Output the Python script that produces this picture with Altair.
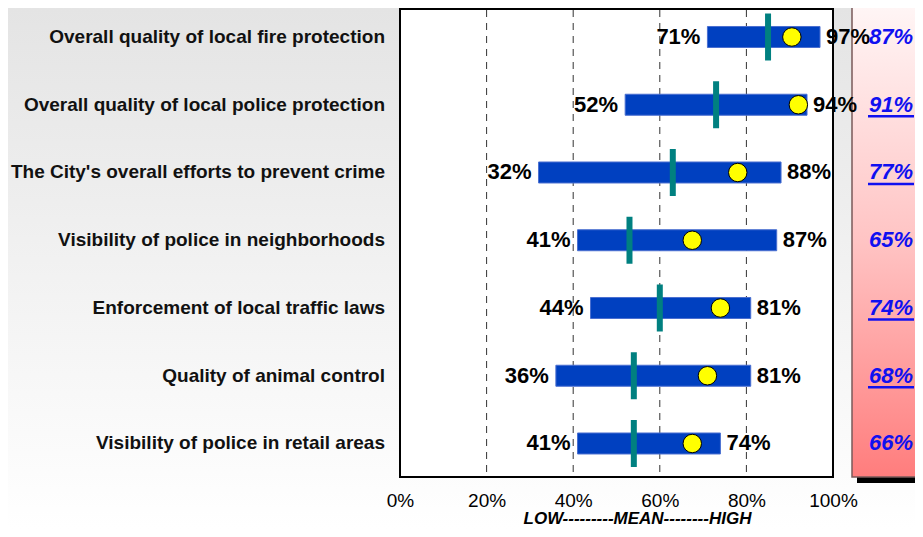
import altair as alt
import pandas as pd

categories = [
    "Overall quality of local fire protection",
    "Overall quality of local police protection",
    "The City's overall efforts to prevent crime",
    "Visibility of police in neighborhoods",
    "Enforcement of local traffic laws",
    "Quality of animal control",
    "Visibility of police in retail areas",
]
low = [71, 52, 32, 41, 44, 36, 41]
high = [97, 94, 88, 87, 81, 81, 74]
mean = [85, 73, 63, 53, 60, 54, 54]
city = [90.5, 92, 78, 67.5, 74, 71, 67.5]
compare = [87, 91, 77, 65, 74, 68, 66]
underlined = [False, True, True, False, True, True, False]
axis_values = [0, 20, 40, 60, 80, 100]
grid_values = [20, 40, 60, 80]

df = pd.DataFrame({
    "cat": categories,
    "rank": list(range(len(categories))),
    "low": low,
    "high": high,
    "mean": mean,
    "city": city,
    "compare": compare,
    "ul": underlined,
})
df["low_lbl"] = [f"{v}%" for v in low]
df["high_lbl"] = [f"{v}%" for v in high]
df["cmp_lbl"] = [f"{v}%" for v in compare]

W, H = 433, 469
SVG_H = 521
SVG_W = 907
FONT = "Liberation Sans"
one = pd.DataFrame({"a": [0]})
grid_df = pd.DataFrame({"g": grid_values})

xs = alt.Scale(domain=[0, 100], nice=False, zero=False, padding=0)
ys = alt.Scale(domain=[-0.42804, 6.49447], nice=False, zero=False, reverse=True, padding=0)

X = alt.X("low:Q", scale=xs, axis=alt.Axis(
    values=axis_values, labelExpr="datum.value + '%'", labelFontSize=19,
    labelFont=FONT, labelColor="black", domain=False, ticks=False, grid=False,
    labelPadding=14, labelFlush=False, labelOverlap=False, zindex=1,
    title="LOW---------MEAN--------HIGH", titleFont=FONT, titleFontSize=17,
    titleFontStyle="italic", titleFontWeight="bold", titleColor="black",
    titleX=237, titleY=41, titleBaseline="middle", titleAlign="center"))
Y = alt.Y("rank:Q", scale=ys, axis=None)

bg = alt.Chart(one).mark_rect(fill=alt.LinearGradient(
    gradient="linear", x1=0, y1=0, x2=0, y2=1,
    stops=[alt.GradientStop(color="#e4e4e4", offset=0), alt.GradientStop(color="#ffffff", offset=1)])
).encode(x=alt.value(-392), x2=alt.value(SVG_W - 392), y=alt.value(0), y2=alt.value(SVG_H))

shadow = alt.Chart(one).mark_rect(fill="black").encode(
    x=alt.value(457), x2=alt.value(530), y=alt.value(0), y2=alt.value(475))
panel = alt.Chart(one).mark_rect(fill=alt.LinearGradient(
    gradient="linear", x1=0, y1=0, x2=0, y2=1,
    stops=[alt.GradientStop(color="#fff6f6", offset=0),
           alt.GradientStop(color="#ffc4c4", offset=0.5),
           alt.GradientStop(color="#ff7d7d", offset=1)]),
    stroke="#7a5a5a", strokeWidth=1.5
).encode(x=alt.value(452), x2=alt.value(530), y=alt.value(-5), y2=alt.value(469))

plotbg = alt.Chart(one).mark_rect(fill="white").encode(
    x=alt.value(0), x2=alt.value(W), y=alt.value(0), y2=alt.value(H))

grid = alt.Chart(grid_df).mark_rule(color="#333333", strokeWidth=1, strokeDash=[7, 6]).encode(
    x=alt.X("g:Q", scale=xs), y=alt.value(2), y2=alt.value(H))

base = alt.Chart(df)
bars = base.mark_bar(color="#0040c0", stroke="#4a6fd0", strokeWidth=1, size=21,
                     orient="horizontal").encode(x=X, x2="high:Q", y=Y)
ticks = base.mark_tick(color="#008080", orient="vertical", size=47, thickness=6,
                       opacity=1).encode(x=alt.X("mean:Q", scale=xs), y=Y)
dots = base.mark_point(shape="circle", filled=True, fill="#ffff00", stroke="black",
                       strokeWidth=1, size=340, opacity=1).encode(
    x=alt.X("city:Q", scale=xs), y=Y)
low_t = base.mark_text(align="right", baseline="middle", dx=-7, font=FONT,
                       fontSize=22, fontWeight="bold", color="black").encode(
    x=alt.X("low:Q", scale=xs), y=Y, text="low_lbl:N")
high_t = base.mark_text(align="left", baseline="middle", dx=6, font=FONT,
                        fontSize=22, fontWeight="bold", color="black").encode(
    x=alt.X("high:Q", scale=xs), y=Y, text="high_lbl:N")
cat_t = base.mark_text(align="right", baseline="middle", font=FONT, fontSize=19,
                       fontWeight="bold", color="#111111").encode(
    x=alt.value(-15), y=Y, text="cat:N")
cmp_t = base.mark_text(align="center", baseline="middle", font=FONT, fontSize=22,
                       fontWeight="bold", fontStyle="italic", color="#1010f0").encode(
    x=alt.value(491), y=Y, text="cmp_lbl:N")
ul = base.transform_filter("datum.ul").mark_rule(color="#1010f0", strokeWidth=2.5).encode(
    x=alt.value(468), x2=alt.value(514), y=Y, yOffset=alt.value(11.5))
frame = alt.Chart(one).mark_rect(fill=None, fillOpacity=0, stroke="black", strokeWidth=2).encode(
    x=alt.value(0), x2=alt.value(W), y=alt.value(1), y2=alt.value(H))

chart = alt.layer(bg, shadow, panel, plotbg, grid, bars, ticks, dots, low_t, high_t,
                  cat_t, cmp_t, ul, frame).properties(
    width=W, height=H,
    autosize=alt.AutoSizeParams(type="none"),
    padding={"left": 392, "top": 0, "right": SVG_W - 392 - W, "bottom": SVG_H - H},
).configure_view(stroke=None, fill=None).configure(background="white")

chart.save("out.html", embed_options={"renderer": "svg", "actions": False})
